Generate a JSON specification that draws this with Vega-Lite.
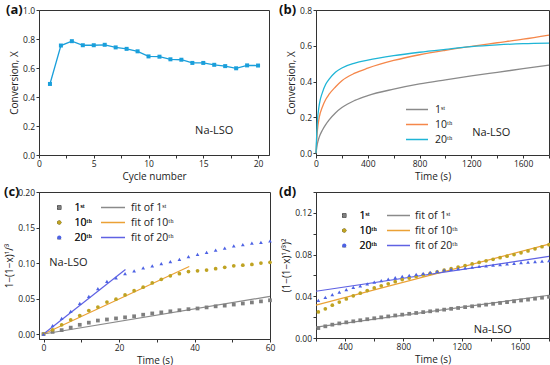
{
"$schema": "https://vega.github.io/schema/vega-lite/v6.json",
"padding": {"left": 3, "top": 3, "right": 0, "bottom": 0},
"background": "white",
"columns": 2,
"bounds": "flush",
"align": "each",
"spacing": {"row": 37, "column": 46},
"resolve": {"scale": {"color": "independent", "shape": "independent"}, "legend": {"color": "independent", "shape": "independent"}},
"datasets": {
"a": [{"cycle":1,"X":0.49},{"cycle":2,"X":0.755},{"cycle":3,"X":0.785},{"cycle":4,"X":0.757},{"cycle":5,"X":0.757},{"cycle":6,"X":0.76},{"cycle":7,"X":0.742},{"cycle":8,"X":0.732},{"cycle":9,"X":0.715},{"cycle":10,"X":0.68},{"cycle":11,"X":0.678},{"cycle":12,"X":0.66},{"cycle":13,"X":0.657},{"cycle":14,"X":0.635},{"cycle":15,"X":0.635},{"cycle":16,"X":0.622},{"cycle":17,"X":0.613},{"cycle":18,"X":0.598},{"cycle":19,"X":0.618},{"cycle":20,"X":0.617}],
"b": [
{"t":0,"X":0,"r":"1ˢᵗ"},{"t":10,"X":0.05,"r":"1ˢᵗ"},{"t":25,"X":0.09,"r":"1ˢᵗ"},{"t":50,"X":0.13,"r":"1ˢᵗ"},{"t":75,"X":0.16,"r":"1ˢᵗ"},{"t":100,"X":0.185,"r":"1ˢᵗ"},{"t":150,"X":0.225,"r":"1ˢᵗ"},{"t":200,"X":0.255,"r":"1ˢᵗ"},{"t":300,"X":0.295,"r":"1ˢᵗ"},{"t":400,"X":0.322,"r":"1ˢᵗ"},{"t":600,"X":0.358,"r":"1ˢᵗ"},{"t":800,"X":0.387,"r":"1ˢᵗ"},{"t":1000,"X":0.41,"r":"1ˢᵗ"},{"t":1200,"X":0.432,"r":"1ˢᵗ"},{"t":1400,"X":0.452,"r":"1ˢᵗ"},{"t":1600,"X":0.472,"r":"1ˢᵗ"},{"t":1800,"X":0.492,"r":"1ˢᵗ"},
{"t":0,"X":0,"r":"10ᵗʰ"},{"t":10,"X":0.12,"r":"10ᵗʰ"},{"t":25,"X":0.2,"r":"10ᵗʰ"},{"t":50,"X":0.26,"r":"10ᵗʰ"},{"t":75,"X":0.3,"r":"10ᵗʰ"},{"t":100,"X":0.328,"r":"10ᵗʰ"},{"t":150,"X":0.37,"r":"10ᵗʰ"},{"t":200,"X":0.405,"r":"10ᵗʰ"},{"t":300,"X":0.447,"r":"10ᵗʰ"},{"t":400,"X":0.475,"r":"10ᵗʰ"},{"t":600,"X":0.518,"r":"10ᵗʰ"},{"t":800,"X":0.55,"r":"10ᵗʰ"},{"t":1000,"X":0.575,"r":"10ᵗʰ"},{"t":1200,"X":0.597,"r":"10ᵗʰ"},{"t":1400,"X":0.617,"r":"10ᵗʰ"},{"t":1600,"X":0.637,"r":"10ᵗʰ"},{"t":1800,"X":0.66,"r":"10ᵗʰ"},
{"t":0,"X":0,"r":"20ᵗʰ"},{"t":10,"X":0.17,"r":"20ᵗʰ"},{"t":25,"X":0.27,"r":"20ᵗʰ"},{"t":50,"X":0.34,"r":"20ᵗʰ"},{"t":75,"X":0.385,"r":"20ᵗʰ"},{"t":100,"X":0.412,"r":"20ᵗʰ"},{"t":150,"X":0.452,"r":"20ᵗʰ"},{"t":200,"X":0.476,"r":"20ᵗʰ"},{"t":300,"X":0.503,"r":"20ᵗʰ"},{"t":400,"X":0.52,"r":"20ᵗʰ"},{"t":600,"X":0.545,"r":"20ᵗʰ"},{"t":800,"X":0.564,"r":"20ᵗʰ"},{"t":1000,"X":0.58,"r":"20ᵗʰ"},{"t":1200,"X":0.595,"r":"20ᵗʰ"},{"t":1400,"X":0.605,"r":"20ᵗʰ"},{"t":1600,"X":0.612,"r":"20ᵗʰ"},{"t":1800,"X":0.615,"r":"20ᵗʰ"}
],
"cpts": [
{"t":0,"v":0,"r":"1ˢᵗ"},{"t":2.4,"v":0.003,"r":"1ˢᵗ"},{"t":4.8,"v":0.0055,"r":"1ˢᵗ"},{"t":7.2,"v":0.009,"r":"1ˢᵗ"},{"t":9.6,"v":0.013,"r":"1ˢᵗ"},{"t":12,"v":0.016,"r":"1ˢᵗ"},{"t":14.4,"v":0.019,"r":"1ˢᵗ"},{"t":16.8,"v":0.0205,"r":"1ˢᵗ"},{"t":19.2,"v":0.022,"r":"1ˢᵗ"},{"t":21.6,"v":0.0235,"r":"1ˢᵗ"},{"t":24,"v":0.025,"r":"1ˢᵗ"},{"t":26.4,"v":0.0272,"r":"1ˢᵗ"},{"t":28.8,"v":0.029,"r":"1ˢᵗ"},{"t":31.2,"v":0.0305,"r":"1ˢᵗ"},{"t":33.6,"v":0.032,"r":"1ˢᵗ"},{"t":36,"v":0.0335,"r":"1ˢᵗ"},{"t":38.4,"v":0.035,"r":"1ˢᵗ"},{"t":40.8,"v":0.036,"r":"1ˢᵗ"},{"t":43.2,"v":0.0375,"r":"1ˢᵗ"},{"t":45.6,"v":0.039,"r":"1ˢᵗ"},{"t":48,"v":0.04,"r":"1ˢᵗ"},{"t":50.4,"v":0.0415,"r":"1ˢᵗ"},{"t":52.8,"v":0.043,"r":"1ˢᵗ"},{"t":55.2,"v":0.0445,"r":"1ˢᵗ"},{"t":57.6,"v":0.046,"r":"1ˢᵗ"},{"t":60,"v":0.0475,"r":"1ˢᵗ"},
{"t":0,"v":0,"r":"10ᵗʰ"},{"t":2.4,"v":0.006,"r":"10ᵗʰ"},{"t":4.8,"v":0.013,"r":"10ᵗʰ"},{"t":7.2,"v":0.02,"r":"10ᵗʰ"},{"t":9.6,"v":0.026,"r":"10ᵗʰ"},{"t":12,"v":0.033,"r":"10ᵗʰ"},{"t":14.4,"v":0.038,"r":"10ᵗʰ"},{"t":16.8,"v":0.045,"r":"10ᵗʰ"},{"t":19.2,"v":0.049,"r":"10ᵗʰ"},{"t":21.6,"v":0.055,"r":"10ᵗʰ"},{"t":24,"v":0.061,"r":"10ᵗʰ"},{"t":26.4,"v":0.066,"r":"10ᵗʰ"},{"t":28.8,"v":0.072,"r":"10ᵗʰ"},{"t":31.2,"v":0.077,"r":"10ᵗʰ"},{"t":33.6,"v":0.082,"r":"10ᵗʰ"},{"t":36,"v":0.085,"r":"10ᵗʰ"},{"t":38.4,"v":0.088,"r":"10ᵗʰ"},{"t":40.8,"v":0.089,"r":"10ᵗʰ"},{"t":43.2,"v":0.09,"r":"10ᵗʰ"},{"t":45.6,"v":0.092,"r":"10ᵗʰ"},{"t":48,"v":0.094,"r":"10ᵗʰ"},{"t":50.4,"v":0.096,"r":"10ᵗʰ"},{"t":52.8,"v":0.097,"r":"10ᵗʰ"},{"t":55.2,"v":0.098,"r":"10ᵗʰ"},{"t":57.6,"v":0.1,"r":"10ᵗʰ"},{"t":60,"v":0.101,"r":"10ᵗʰ"},
{"t":0,"v":0,"r":"20ᵗʰ"},{"t":2.4,"v":0.012,"r":"20ᵗʰ"},{"t":4.8,"v":0.022,"r":"20ᵗʰ"},{"t":7.2,"v":0.032,"r":"20ᵗʰ"},{"t":9.6,"v":0.043,"r":"20ᵗʰ"},{"t":12,"v":0.053,"r":"20ᵗʰ"},{"t":14.4,"v":0.064,"r":"20ᵗʰ"},{"t":16.8,"v":0.074,"r":"20ᵗʰ"},{"t":19.2,"v":0.079,"r":"20ᵗʰ"},{"t":21.6,"v":0.085,"r":"20ᵗʰ"},{"t":24,"v":0.089,"r":"20ᵗʰ"},{"t":26.4,"v":0.093,"r":"20ᵗʰ"},{"t":28.8,"v":0.096,"r":"20ᵗʰ"},{"t":31.2,"v":0.099,"r":"20ᵗʰ"},{"t":33.6,"v":0.102,"r":"20ᵗʰ"},{"t":36,"v":0.105,"r":"20ᵗʰ"},{"t":38.4,"v":0.109,"r":"20ᵗʰ"},{"t":40.8,"v":0.112,"r":"20ᵗʰ"},{"t":43.2,"v":0.115,"r":"20ᵗʰ"},{"t":45.6,"v":0.118,"r":"20ᵗʰ"},{"t":48,"v":0.121,"r":"20ᵗʰ"},{"t":50.4,"v":0.124,"r":"20ᵗʰ"},{"t":52.8,"v":0.126,"r":"20ᵗʰ"},{"t":55.2,"v":0.128,"r":"20ᵗʰ"},{"t":57.6,"v":0.129,"r":"20ᵗʰ"},{"t":60,"v":0.131,"r":"20ᵗʰ"}
],
"cfit": [
{"t":0,"v":0,"f":"fit of 1ˢᵗ"},{"t":60,"v":0.053,"f":"fit of 1ˢᵗ"},
{"t":0,"v":0,"f":"fit of 10ᵗʰ"},{"t":38.6,"v":0.095,"f":"fit of 10ᵗʰ"},
{"t":0,"v":0,"f":"fit of 20ᵗʰ"},{"t":21.7,"v":0.091,"f":"fit of 20ᵗʰ"}
],
"dpts": [
{"t":216,"v":0.0095,"r":"1ˢᵗ"},{"t":264,"v":0.0112,"r":"1ˢᵗ"},{"t":312,"v":0.0128,"r":"1ˢᵗ"},{"t":360,"v":0.014,"r":"1ˢᵗ"},{"t":408,"v":0.015,"r":"1ˢᵗ"},{"t":456,"v":0.016,"r":"1ˢᵗ"},{"t":504,"v":0.017,"r":"1ˢᵗ"},{"t":552,"v":0.018,"r":"1ˢᵗ"},{"t":600,"v":0.0189,"r":"1ˢᵗ"},{"t":648,"v":0.0198,"r":"1ˢᵗ"},{"t":696,"v":0.0207,"r":"1ˢᵗ"},{"t":744,"v":0.0216,"r":"1ˢᵗ"},{"t":792,"v":0.0224,"r":"1ˢᵗ"},{"t":840,"v":0.0232,"r":"1ˢᵗ"},{"t":888,"v":0.024,"r":"1ˢᵗ"},{"t":936,"v":0.0248,"r":"1ˢᵗ"},{"t":984,"v":0.0256,"r":"1ˢᵗ"},{"t":1032,"v":0.0264,"r":"1ˢᵗ"},{"t":1080,"v":0.0272,"r":"1ˢᵗ"},{"t":1128,"v":0.028,"r":"1ˢᵗ"},{"t":1176,"v":0.0288,"r":"1ˢᵗ"},{"t":1224,"v":0.0296,"r":"1ˢᵗ"},{"t":1272,"v":0.0304,"r":"1ˢᵗ"},{"t":1320,"v":0.0312,"r":"1ˢᵗ"},{"t":1368,"v":0.032,"r":"1ˢᵗ"},{"t":1416,"v":0.0328,"r":"1ˢᵗ"},{"t":1464,"v":0.0336,"r":"1ˢᵗ"},{"t":1512,"v":0.0344,"r":"1ˢᵗ"},{"t":1560,"v":0.0352,"r":"1ˢᵗ"},{"t":1608,"v":0.036,"r":"1ˢᵗ"},{"t":1656,"v":0.0368,"r":"1ˢᵗ"},{"t":1704,"v":0.0377,"r":"1ˢᵗ"},{"t":1752,"v":0.0386,"r":"1ˢᵗ"},{"t":1800,"v":0.0395,"r":"1ˢᵗ"},
{"t":216,"v":0.025,"r":"10ᵗʰ"},{"t":264,"v":0.028,"r":"10ᵗʰ"},{"t":312,"v":0.0315,"r":"10ᵗʰ"},{"t":360,"v":0.0345,"r":"10ᵗʰ"},{"t":408,"v":0.0375,"r":"10ᵗʰ"},{"t":456,"v":0.0405,"r":"10ᵗʰ"},{"t":504,"v":0.043,"r":"10ᵗʰ"},{"t":552,"v":0.0455,"r":"10ᵗʰ"},{"t":600,"v":0.048,"r":"10ᵗʰ"},{"t":648,"v":0.05,"r":"10ᵗʰ"},{"t":696,"v":0.052,"r":"10ᵗʰ"},{"t":744,"v":0.054,"r":"10ᵗʰ"},{"t":792,"v":0.056,"r":"10ᵗʰ"},{"t":840,"v":0.0575,"r":"10ᵗʰ"},{"t":888,"v":0.059,"r":"10ᵗʰ"},{"t":936,"v":0.0605,"r":"10ᵗʰ"},{"t":984,"v":0.062,"r":"10ᵗʰ"},{"t":1032,"v":0.0635,"r":"10ᵗʰ"},{"t":1080,"v":0.065,"r":"10ᵗʰ"},{"t":1128,"v":0.0665,"r":"10ᵗʰ"},{"t":1176,"v":0.068,"r":"10ᵗʰ"},{"t":1224,"v":0.0695,"r":"10ᵗʰ"},{"t":1272,"v":0.071,"r":"10ᵗʰ"},{"t":1320,"v":0.0725,"r":"10ᵗʰ"},{"t":1368,"v":0.074,"r":"10ᵗʰ"},{"t":1416,"v":0.0755,"r":"10ᵗʰ"},{"t":1464,"v":0.077,"r":"10ᵗʰ"},{"t":1512,"v":0.0785,"r":"10ᵗʰ"},{"t":1560,"v":0.08,"r":"10ᵗʰ"},{"t":1608,"v":0.0817,"r":"10ᵗʰ"},{"t":1656,"v":0.0835,"r":"10ᵗʰ"},{"t":1704,"v":0.0855,"r":"10ᵗʰ"},{"t":1752,"v":0.0875,"r":"10ᵗʰ"},{"t":1800,"v":0.0895,"r":"10ᵗʰ"},
{"t":216,"v":0.036,"r":"20ᵗʰ"},{"t":264,"v":0.039,"r":"20ᵗʰ"},{"t":312,"v":0.0415,"r":"20ᵗʰ"},{"t":360,"v":0.044,"r":"20ᵗʰ"},{"t":408,"v":0.0465,"r":"20ᵗʰ"},{"t":456,"v":0.0485,"r":"20ᵗʰ"},{"t":504,"v":0.05,"r":"20ᵗʰ"},{"t":552,"v":0.052,"r":"20ᵗʰ"},{"t":600,"v":0.0535,"r":"20ᵗʰ"},{"t":648,"v":0.055,"r":"20ᵗʰ"},{"t":696,"v":0.0565,"r":"20ᵗʰ"},{"t":744,"v":0.058,"r":"20ᵗʰ"},{"t":792,"v":0.059,"r":"20ᵗʰ"},{"t":840,"v":0.06,"r":"20ᵗʰ"},{"t":888,"v":0.061,"r":"20ᵗʰ"},{"t":936,"v":0.062,"r":"20ᵗʰ"},{"t":984,"v":0.063,"r":"20ᵗʰ"},{"t":1032,"v":0.064,"r":"20ᵗʰ"},{"t":1080,"v":0.065,"r":"20ᵗʰ"},{"t":1128,"v":0.0658,"r":"20ᵗʰ"},{"t":1176,"v":0.0665,"r":"20ᵗʰ"},{"t":1224,"v":0.0672,"r":"20ᵗʰ"},{"t":1272,"v":0.0679,"r":"20ᵗʰ"},{"t":1320,"v":0.0686,"r":"20ᵗʰ"},{"t":1368,"v":0.0692,"r":"20ᵗʰ"},{"t":1416,"v":0.0698,"r":"20ᵗʰ"},{"t":1464,"v":0.0704,"r":"20ᵗʰ"},{"t":1512,"v":0.071,"r":"20ᵗʰ"},{"t":1560,"v":0.0716,"r":"20ᵗʰ"},{"t":1608,"v":0.0722,"r":"20ᵗʰ"},{"t":1656,"v":0.0728,"r":"20ᵗʰ"},{"t":1704,"v":0.0733,"r":"20ᵗʰ"},{"t":1752,"v":0.0738,"r":"20ᵗʰ"},{"t":1800,"v":0.0743,"r":"20ᵗʰ"}
],
"dfit": [
{"t":200,"v":0.0105,"f":"fit of 1ˢᵗ"},{"t":1800,"v":0.041,"f":"fit of 1ˢᵗ"},
{"t":200,"v":0.0315,"f":"fit of 10ᵗʰ"},{"t":1800,"v":0.09,"f":"fit of 10ᵗʰ"},
{"t":200,"v":0.0448,"f":"fit of 20ᵗʰ"},{"t":1800,"v":0.0782,"f":"fit of 20ᵗʰ"}
]
},
"concat": [
{
"width": 230, "height": 145,
"title": {"text": "(a)", "dx": -33, "dy": 15},
"layer": [
{"data": {"name": "a"},
 "mark": {"type": "line", "color": "#1a9fdb", "strokeWidth": 1.3, "point": {"shape": "square", "size": 16, "filled": true, "color": "#1a9fdb"}},
 "encoding": {
  "x": {"field": "cycle", "type": "quantitative", "scale": {"domain": [0, 21], "nice": false}, "axis": {"title": "Cycle number", "values": [0, 2.5, 5, 7.5, 10, 12.5, 15, 17.5, 20], "tickCount": 40, "format": "d", "labelExpr": "datum.value % 5 === 0 ? datum.label : ''"}},
  "y": {"field": "X", "type": "quantitative", "scale": {"domain": [0, 1], "nice": false}, "axis": {"title": "Conversion, X", "values": [0, 0.2, 0.4, 0.6, 0.8, 1.0], "tickCount": 40, "format": ".1f"}}
 }},
{"data": {"values": [{"cycle": 16, "X": 0.165, "label": "Na-LSO"}]},
 "mark": {"type": "text", "fontSize": 11, "color": "#222"},
 "encoding": {"x": {"field": "cycle", "type": "quantitative"}, "y": {"field": "X", "type": "quantitative"}, "text": {"field": "label"}}}
]
},
{
"width": 233, "height": 145,
"title": {"text": "(b)", "dx": -37, "dy": 15},
"layer": [
{"data": {"name": "b"},
 "mark": {"type": "line", "strokeWidth": 1.3, "interpolate": "monotone"},
 "encoding": {
  "x": {"field": "t", "type": "quantitative", "scale": {"domain": [0, 1800], "nice": false}, "axis": {"title": "Time (s)", "values": [0, 200, 400, 600, 800, 1000, 1200, 1400, 1600, 1800], "tickCount": 40, "format": "d", "labelExpr": "datum.value % 400 === 0 ? datum.label : ''"}},
  "y": {"field": "X", "type": "quantitative", "scale": {"domain": [-0.01, 0.8], "nice": false}, "axis": {"title": "Conversion, X", "values": [0, 0.2, 0.4, 0.6, 0.8], "tickCount": 40, "format": ".1f"}},
  "color": {"field": "r", "type": "nominal", "sort": null, "scale": {"domain": ["1ˢᵗ", "10ᵗʰ", "20ᵗʰ"], "range": ["#8a8a8a", "#f5874a", "#1fb5d6"]},
   "legend": {"orient": "none", "legendX": 89, "legendY": 92, "title": null, "symbolType": "stroke", "symbolSize": 484, "symbolStrokeWidth": 1.5, "labelFontSize": 10.5, "rowPadding": 0, "clipHeight": 15, "labelOffset": 6}}
 }},
{"data": {"values": [{"t": 1354, "X": 0.113, "label": "Na-LSO"}]},
 "mark": {"type": "text", "fontSize": 11, "color": "#222"},
 "encoding": {"x": {"field": "t", "type": "quantitative"}, "y": {"field": "X", "type": "quantitative"}, "text": {"field": "label"}}}
]
},
{
"width": 231, "height": 147,
"title": {"text": "(c)", "dx": -35, "dy": 15},
"resolve": {"scale": {"color": "independent"}},
"layer": [
{"data": {"name": "cfit"},
 "mark": {"type": "line", "strokeWidth": 1.2},
 "encoding": {
  "x": {"field": "t", "type": "quantitative", "scale": {"domain": [-1.2, 60], "nice": false}, "axis": {"title": "Time (s)", "values": [0, 10, 20, 30, 40, 50, 60], "tickCount": 40, "labelExpr": "datum.value % 20 === 0 ? datum.label : ''"}},
  "y": {"field": "v", "type": "quantitative", "scale": {"domain": [-0.007, 0.2], "nice": false}, "axis": {"title": "1−(1−x)¹/³", "values": [0, 0.05, 0.1, 0.15, 0.2], "tickCount": 40, "format": ".2f"}},
  "color": {"field": "f", "type": "nominal", "sort": null, "scale": {"domain": ["fit of 1ˢᵗ", "fit of 10ᵗʰ", "fit of 20ᵗʰ"], "range": ["#8a8a8a", "#eba135", "#5f62e3"]},
   "legend": {"orient": "none", "legendX": 61, "legendY": 8, "title": null, "symbolType": "stroke", "symbolSize": 576, "symbolStrokeWidth": 1.5, "labelFontSize": 10.5, "rowPadding": 0, "clipHeight": 15, "labelOffset": 5}}
 }},
{"data": {"name": "cpts"},
 "mark": {"type": "point", "filled": true, "size": 14, "opacity": 1},
 "encoding": {
  "x": {"field": "t", "type": "quantitative"},
  "y": {"field": "v", "type": "quantitative"},
  "color": {"field": "r", "type": "nominal", "sort": null, "scale": {"domain": ["1ˢᵗ", "10ᵗʰ", "20ᵗʰ"], "range": ["#7f7f7f", "#bfa322", "#4d62e4"]},
   "legend": {"orient": "none", "legendX": 15, "legendY": 8, "title": null, "symbolSize": 18, "labelFontSize": 10.5, "rowPadding": 0, "clipHeight": 15, "labelOffset": 10}},
  "shape": {"field": "r", "type": "nominal", "sort": null, "scale": {"domain": ["1ˢᵗ", "10ᵗʰ", "20ᵗʰ"], "range": ["square", "circle", "triangle-up"]},
   "legend": {"orient": "none", "legendX": 15, "legendY": 8, "title": null, "symbolSize": 18, "labelFontSize": 10.5, "rowPadding": 0, "clipHeight": 15, "labelOffset": 10}}
 }},
{"data": {"values": [{"t": 6.6, "v": 0.1007, "label": "Na-LSO"}]},
 "mark": {"type": "text", "fontSize": 11, "color": "#222"},
 "encoding": {"x": {"field": "t", "type": "quantitative"}, "y": {"field": "v", "type": "quantitative"}, "text": {"field": "label"}}}
]
},
{
"width": 233, "height": 146,
"title": {"text": "(d)", "dx": -37, "dy": 15},
"resolve": {"scale": {"color": "independent"}},
"layer": [
{"data": {"name": "dfit"},
 "mark": {"type": "line", "strokeWidth": 1.2},
 "encoding": {
  "x": {"field": "t", "type": "quantitative", "scale": {"domain": [200, 1800], "nice": false}, "axis": {"title": "Time (s)", "values": [200, 400, 600, 800, 1000, 1200, 1400, 1600, 1800], "tickCount": 40, "format": "d", "labelExpr": "datum.value % 400 === 0 ? datum.label : ''"}},
  "y": {"field": "v", "type": "quantitative", "scale": {"domain": [0, 0.14], "nice": false}, "axis": {"title": "(1−(1−x)¹/³)²", "values": [0, 0.02, 0.04, 0.06, 0.08, 0.1, 0.12, 0.14], "tickCount": 40, "format": ".2f", "labelExpr": "round(datum.value * 100) % 4 === 0 && datum.value < 0.13 ? datum.label : ''"}},
  "color": {"field": "f", "type": "nominal", "sort": null, "scale": {"domain": ["fit of 1ˢᵗ", "fit of 10ᵗʰ", "fit of 20ᵗʰ"], "range": ["#8a8a8a", "#eba135", "#5f62e3"]},
   "legend": {"orient": "none", "legendX": 70, "legendY": 16, "title": null, "symbolType": "stroke", "symbolSize": 529, "symbolStrokeWidth": 1.5, "labelFontSize": 10.5, "rowPadding": 0, "clipHeight": 15, "labelOffset": 4}}
 }},
{"data": {"name": "dpts"},
 "mark": {"type": "point", "filled": true, "size": 14, "opacity": 1},
 "encoding": {
  "x": {"field": "t", "type": "quantitative"},
  "y": {"field": "v", "type": "quantitative"},
  "color": {"field": "r", "type": "nominal", "sort": null, "scale": {"domain": ["1ˢᵗ", "10ᵗʰ", "20ᵗʰ"], "range": ["#7f7f7f", "#bfa322", "#4d62e4"]},
   "legend": {"orient": "none", "legendX": 23, "legendY": 16, "title": null, "symbolSize": 18, "labelFontSize": 10.5, "rowPadding": 0, "clipHeight": 15, "labelOffset": 10}},
  "shape": {"field": "r", "type": "nominal", "sort": null, "scale": {"domain": ["1ˢᵗ", "10ᵗʰ", "20ᵗʰ"], "range": ["square", "circle", "triangle-up"]},
   "legend": {"orient": "none", "legendX": 23, "legendY": 16, "title": null, "symbolSize": 18, "labelFontSize": 10.5, "rowPadding": 0, "clipHeight": 15, "labelOffset": 10}}
 }},
{"data": {"values": [{"t": 1414, "v": 0.008, "label": "Na-LSO"}]},
 "mark": {"type": "text", "fontSize": 11, "color": "#222"},
 "encoding": {"x": {"field": "t", "type": "quantitative"}, "y": {"field": "v", "type": "quantitative"}, "text": {"field": "label"}}}
]
}
],
"config": {
 "font": "Open Sans",
 "view": {"stroke": "#333", "strokeWidth": 1},
 "axis": {"domainColor": "#333", "tickColor": "#333", "labelColor": "#222", "titleColor": "#222", "labelFontSize": 8.5, "titleFontSize": 10, "titleFontWeight": "normal", "tickSize": 3, "labelPadding": 1.5, "titlePadding": 3, "grid": false, "labelFlush": false, "labelOverlap": false},
 "legend": {"labelFontSize": 10.5, "labelColor": "#222"},
 "title": {"fontSize": 13, "fontWeight": "bold", "anchor": "start", "frame": "group", "offset": 0, "color": "#111"}
}
}
